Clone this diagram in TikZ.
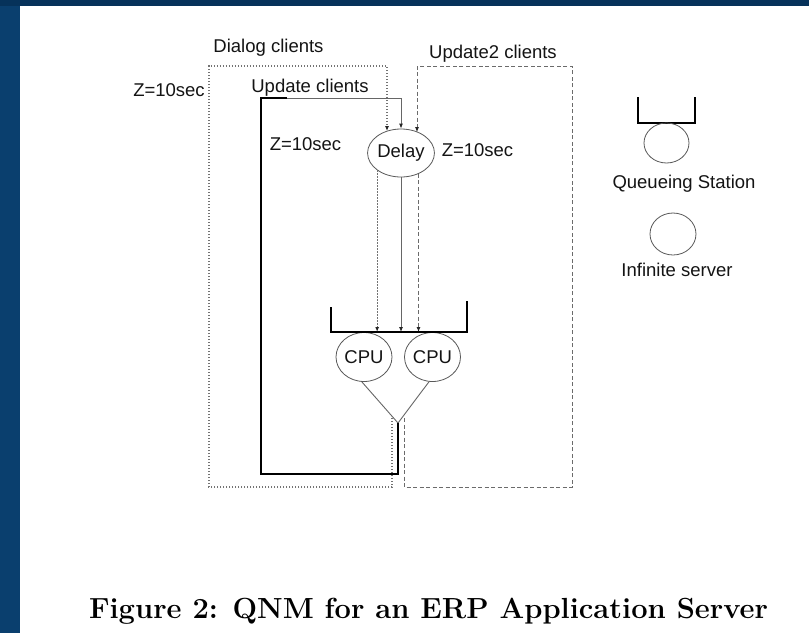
\documentclass[tikz,border=0pt]{standalone}
\usepackage{fontspec}
\newfontfamily\labfont{Liberation Sans}
\usetikzlibrary{shapes.geometric,arrows.meta}
\definecolor{frameblue}{HTML}{0A3F6E}
\definecolor{frametop}{HTML}{06325A}
\begin{document}
\begin{tikzpicture}[x=1pt,y=-1pt,
  lab/.style={font=\labfont\fontsize{18.5}{20}\selectfont, text=black!92, inner sep=0pt},
  srv/.style={ellipse, draw=black!65, line width=0.8pt, inner sep=0pt},
  qbar/.style={draw=black, line width=1.4pt},
  loopline/.style={draw=black, line width=1.4pt},
  graylink/.style={draw=black!60, line width=0.9pt},
  dialog/.style={draw=black!55, line width=1.1pt, dash pattern=on 1.2pt off 1.8pt},
  upd/.style={draw=black!58, line width=0.9pt, dash pattern=on 4pt off 2.5pt},
  tip/.style={-{Latex[length=5pt,width=4pt,color=black!85]}},
  ]
% page frame
\fill[white] (0,0) rectangle (809,633);
\fill[frameblue] (0,0) rectangle (20,633);
\fill[frametop] (0,0) rectangle (809,6);
\useasboundingbox (0,0) rectangle (809,633);

% stations
\node[srv, lab, minimum width=54pt, minimum height=48pt] (delay) at (401,153) {Delay};
\node[srv, lab, minimum width=56pt, minimum height=49pt] (cpu1) at (364,357) {CPU};
\node[srv, lab, minimum width=56pt, minimum height=49pt] (cpu2) at (432.5,357) {CPU};

% labels
\node[lab] (dlab) at (268.5,48) {Dialog clients};
\node[lab] (ulab) at (310,88) {Update clients};
\node[lab] (u2lab) at (493,54) {Update2 clients};
\node[lab] (z1) at (169,90) {Z=10sec};
\node[lab] (z2) at (305.5,144) {Z=10sec};
\node[lab] (z3) at (477.5,150) {Z=10sec};

% routing points
\coordinate (merge) at (398,423);
\coordinate (loopbl) at (261,474);
\coordinate (looptl) at (261,98);
\coordinate (lsplit) at (287,98);
\coordinate (dtr) at (387,66);
\coordinate (dbl) at (209,487);
\coordinate (dend) at (392,418);
\coordinate (utl) at (417,66);
\coordinate (ubr) at (572,487);
\coordinate (uend) at (404,418);
\coordinate (qlt) at (331,307);
\coordinate (qlb) at (331,332);
\coordinate (qrb) at (467,332);
\coordinate (qrt) at (467,301);

% CPU queue
\draw[qbar] (qlt) -- (qlb) -- (qrb) -- (qrt);

% CPUs join
\draw[graylink] (cpu1.265) -- (merge) -- (cpu2.262);

% update clients loop
\draw[loopline] (merge) |- (loopbl) -- (looptl) -- (lsplit);
\draw[graylink, tip] (lsplit) -| (delay.north);
\draw[graylink, tip] (delay.south) -- (delay.south |- qlb);

% dialog clients
\draw[dialog, tip] (dend) |- (dbl) |- (dtr) -- (dtr |- delay.124);
\draw[dialog, tip] (delay.216) -- (delay.216 |- qlb);

% update2 clients
\draw[upd, tip] (uend) |- (ubr) |- (utl) -- (utl |- delay.50);
\draw[upd, tip] (delay.310) -- (delay.310 |- qlb);

% legend
\coordinate (lqlt) at (638,97);
\coordinate (lqlb) at (638,123);
\coordinate (lqrb) at (695,123);
\coordinate (lqrt) at (695,97);
\draw[qbar] (lqlt) -- (lqlb) -- (lqrb) -- (lqrt);
\node[srv, minimum width=45pt, minimum height=40pt] (qsrv) at (666.5,143) {};
\node[lab] (qlab) at (684,184) {Queueing Station};
\node[srv, minimum width=46pt, minimum height=42pt] (isrv) at (673,234) {};
\node[lab] (ilab) at (677,270) {Infinite server};

% caption
\node[font=\bfseries\fontsize{29.1}{33}\selectfont, inner sep=0pt] (cap) at (428.5,611) {Figure 2: QNM for an ERP Application Server};
\end{tikzpicture}
\end{document}
